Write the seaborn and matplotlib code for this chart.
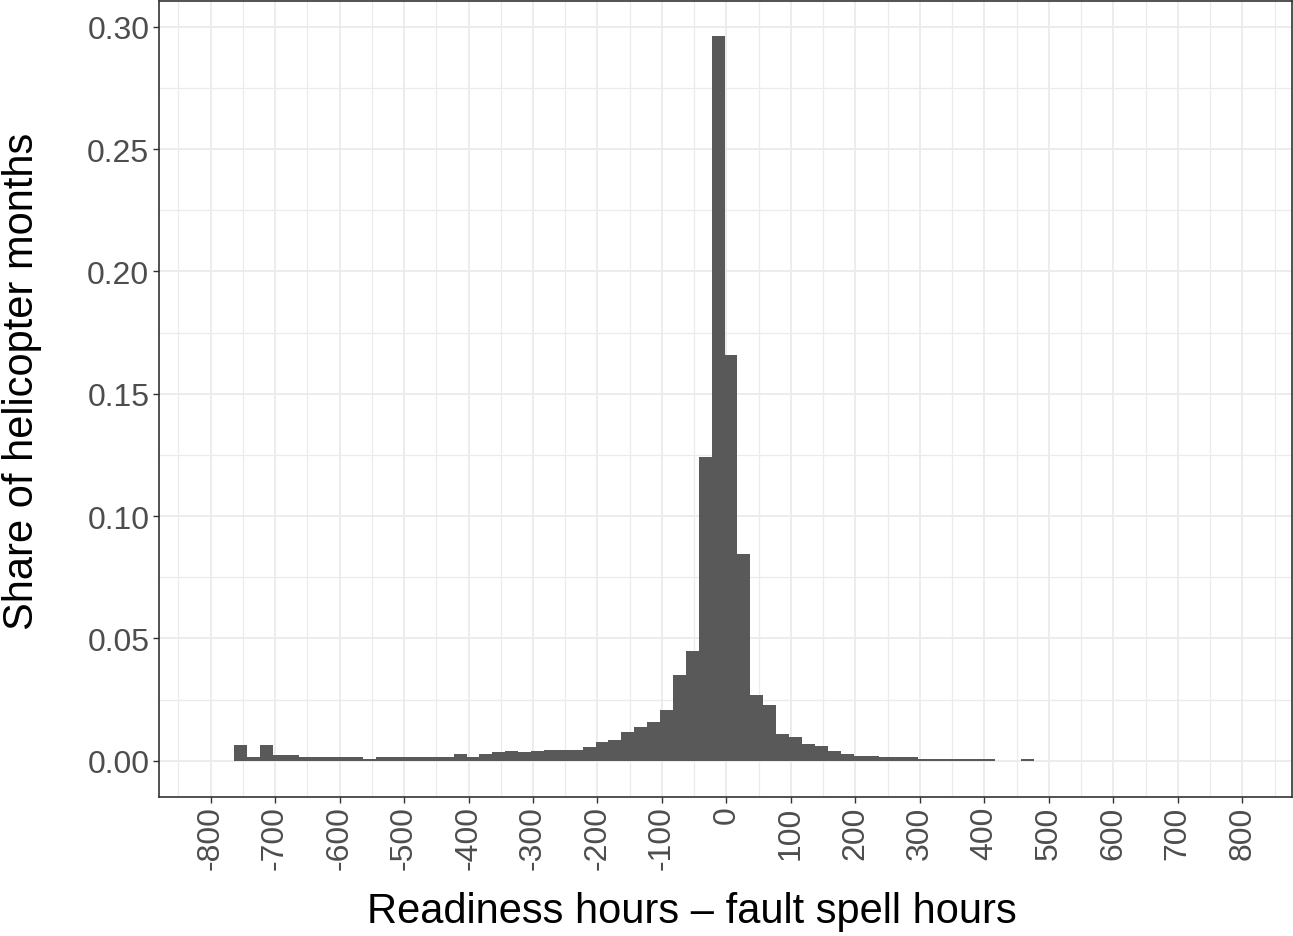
import numpy as np
import pandas as pd
import matplotlib
matplotlib.use("Agg")
import matplotlib.pyplot as plt
import seaborn as sns
from matplotlib.ticker import FixedLocator

# ---- data: histogram of (readiness hours - fault spell hours), bin width 20 ----
bin_start = -763
bin_width = 20
shares = [
    0.0066, 0.0017, 0.0066, 0.0023, 0.0023, 0.0015, 0.0015, 0.0015, 0.0015, 0.0015,
    0.0008, 0.0015, 0.0015, 0.0015, 0.0015, 0.0015, 0.0015, 0.0026, 0.0016, 0.0026,
    0.0034, 0.0041, 0.0034, 0.0041, 0.0046, 0.0046, 0.0046, 0.0058, 0.0078, 0.0085,
    0.0117, 0.0137, 0.0158, 0.0206, 0.0350, 0.0447, 0.1240, 0.2960, 0.1660, 0.0845,
    0.0268, 0.0226, 0.0110, 0.0096, 0.0069, 0.0062, 0.0042, 0.0028, 0.0020, 0.0020,
    0.0014, 0.0014, 0.0014, 0.0007, 0.0007, 0.0007, 0.0007, 0.0007, 0.0007, 0.0,
    0.0, 0.0007,
]
x_ticks = list(range(-800, 801, 100))
y_ticks = [0.00, 0.05, 0.10, 0.15, 0.20, 0.25, 0.30]
x_title = "Readiness hours \u2013 fault spell hours"
y_title = "Share of helicopter months"

n_bins = len(shares)
centers = bin_start + bin_width * (np.arange(n_bins) + 0.5)
df = pd.DataFrame({"diff": centers, "share": shares})

sns.set_theme(style="white")
plt.rcParams["font.family"] = ["Liberation Sans", "DejaVu Sans"]

fig = plt.figure(figsize=(12.93, 9.37), dpi=100)
ax = fig.add_axes([159 / 1293, 1 - 798 / 937, (1292 - 159) / 1293, (798 - 2) / 937])

sns.histplot(data=df, x="diff", weights="share", binwidth=bin_width,
             binrange=(bin_start, bin_start + bin_width * n_bins),
             color="#595959", alpha=1.0, linewidth=0, edgecolor="none",
             ax=ax, zorder=3)

ax.set_xlim(-880, 877)
ax.set_ylim(-0.0148, 0.3105)

ax.xaxis.set_major_locator(FixedLocator(x_ticks))
ax.xaxis.set_minor_locator(FixedLocator([v + 50 for v in range(-900, 900, 100)]))
ax.yaxis.set_major_locator(FixedLocator(y_ticks))
ax.yaxis.set_minor_locator(FixedLocator([0.025 + 0.05 * i for i in range(6)]))
ax.set_xticklabels([str(v) for v in x_ticks], rotation=90, va="top", ha="center")
ax.set_yticklabels([f"{v:.2f}" for v in y_ticks])

ax.grid(which="major", color="#EBEBEB", linewidth=1.3, zorder=0)
ax.grid(which="minor", color="#EBEBEB", linewidth=0.9, zorder=0)
ax.set_axisbelow(True)

ax.tick_params(axis="both", which="major", length=4, width=1.0, color="#333333",
               labelsize=23, labelcolor="#4D4D4D", pad=3,
               bottom=True, left=True)
ax.tick_params(axis="x", which="major", pad=2)
ax.tick_params(axis="both", which="minor", length=0)
for s in ax.spines.values():
    s.set_color("#333333")
    s.set_linewidth(1.2)
    s.set_visible(True)

ax.set_xlabel(x_title, fontsize=30, color="black")
ax.set_ylabel(y_title, fontsize=30, color="black")
ax.xaxis.set_label_coords(0.470, -0.118)
ax.yaxis.set_label_coords(-0.103, 0.524)

fig.savefig("out.png", dpi=100, facecolor="white")
